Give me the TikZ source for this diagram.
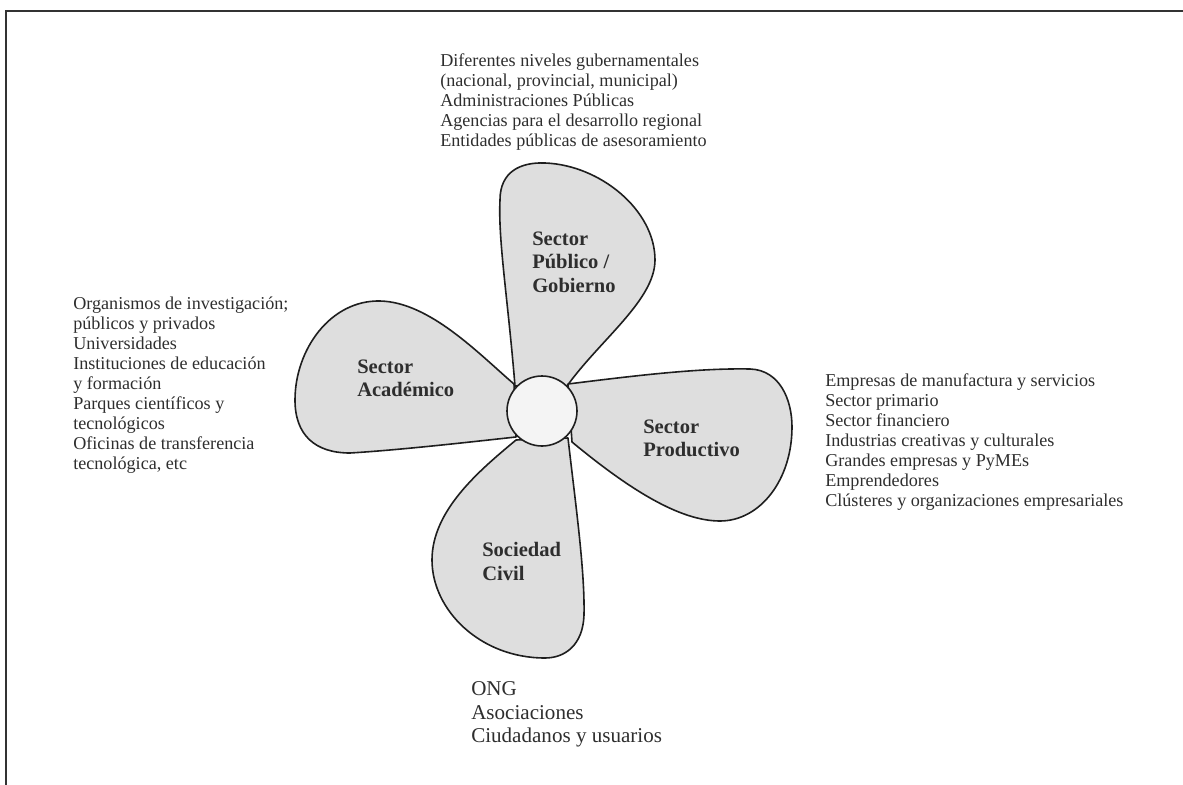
\documentclass[tikz,border=0pt]{standalone}
\usepackage{fontspec}
\setmainfont{Liberation Serif}
\definecolor{bladegray}{HTML}{DEDEDE}
\definecolor{hubwhite}{HTML}{F4F4F4}
\definecolor{txtgray}{HTML}{2E2E2E}
\definecolor{edgegray}{HTML}{1E1E1E}
\begin{document}
\begin{tikzpicture}[x=0.75pt,y=-0.75pt,
  blade/.style={draw=edgegray, line width=1.2pt, fill=bladegray, line join=round},
  hub/.style={circle, draw=edgegray, line width=1.2pt, fill=hubwhite, minimum size=52.5pt, inner sep=0pt},
  listtxt/.style={anchor=west, inner sep=0pt, align=left, text=txtgray, font=\fontsize{13.6}{15}\selectfont},
  bigtxt/.style={anchor=west, inner sep=0pt, align=left, text=txtgray, font=\fontsize{15.8}{17.8}\selectfont},
  sectorlbl/.style={anchor=west, inner sep=0pt, align=left, text=txtgray, font=\fontsize{15.4}{17.6}\selectfont\bfseries},
  frameline/.style={draw=black!80, line width=1.5pt}]
\useasboundingbox (0,0) rectangle (1183,785);

% page frame (top and left rules)
\coordinate (frameL) at (6,785);
\coordinate (frameC) at (6,11);
\coordinate (frameR) at (1183,11);
\draw[frameline] (frameL) -- (frameC) -- (frameR);

% blade: Sector Publico / Gobierno (top)
\draw[blade] (515,386) .. controls (508,300) and (498,240) .. (500,200)
  .. controls (500,172) and (520,162) .. (545,163)
  .. controls (600,165) and (655,210) .. (655,260)
  .. controls (655,300) and (600,340) .. (567,386) -- cycle;

% blade: Sector Productivo (right)
\draw[blade] (568,384) .. controls (640,375) and (700,368) .. (750,369)
  .. controls (780,370) and (792,400) .. (792,427)
  .. controls (792,480) and (760,521) .. (720,521)
  .. controls (680,521) and (630,490) .. (572,442) -- cycle;

% blade: Sociedad Civil (bottom)
\draw[blade] (568,438) .. controls (575,500) and (585,570) .. (584,615)
  .. controls (583,645) and (565,658) .. (545,658)
  .. controls (480,658) and (432,610) .. (432,560)
  .. controls (432,510) and (480,470) .. (516,440) -- cycle;

% blade: Sector Academico (left)
\draw[blade] (514,384) .. controls (480,355) and (430,302) .. (380,301)
  .. controls (330,300) and (295,350) .. (295,400)
  .. controls (295,435) and (315,453) .. (350,453)
  .. controls (400,450) and (470,442) .. (516,437) -- cycle;

% hub
\node[hub] (hub) at (542,411) {};

% blade labels
\node[sectorlbl] (lblpub) at (532,262) {Sector\\Público /\\Gobierno};
\node[sectorlbl] (lblacad) at (357,378.5) {Sector\\Académico};
\node[sectorlbl] (lblprod) at (643,438.5) {Sector\\Productivo};
\node[sectorlbl] (lblsoc) at (482,561.5) {Sociedad\\Civil};

% member lists
\node[listtxt] (txtpub) at (440,102) {Diferentes niveles gubernamentales\\(nacional, provincial, municipal)\\Administraciones Públicas\\Agencias para el desarrollo regional\\Entidades públicas de asesoramiento};
\node[listtxt] (txtacad) at (73,385) {Organismos de investigación;\\públicos y privados\\Universidades\\Instituciones de educación\\y formación\\Parques científicos y\\tecnológicos\\Oficinas de transferencia\\tecnológica, etc};
\node[listtxt] (txtprod) at (825,442) {Empresas de manufactura y servicios\\Sector primario\\Sector financiero\\Industrias creativas y culturales\\Grandes empresas y PyMEs\\Emprendedores\\Clústeres y organizaciones empresariales};
\node[bigtxt] (txtsoc) at (471,714.5) {ONG\\Asociaciones\\Ciudadanos y usuarios};
\end{tikzpicture}
\end{document}
